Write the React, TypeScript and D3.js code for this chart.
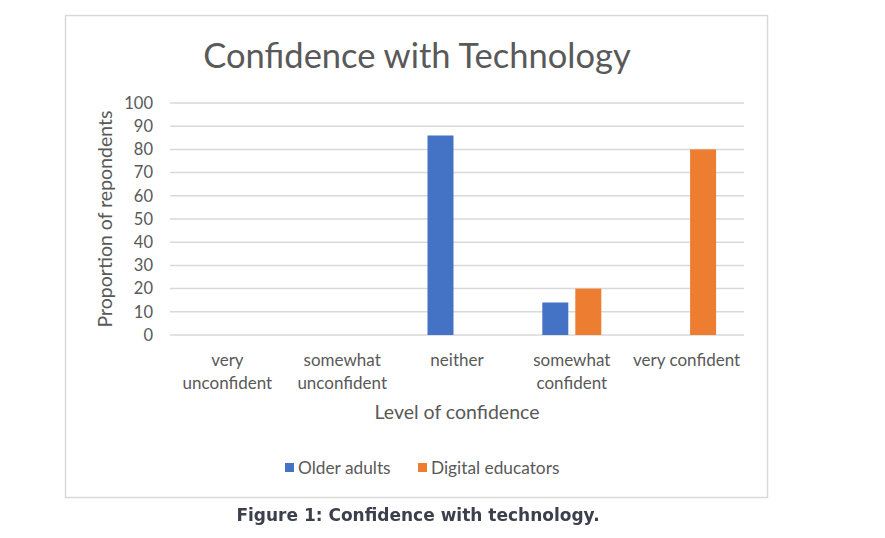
import { useRef, useEffect } from "react";
import * as d3 from "d3";

const categories = [
  ["very", "unconfident"],
  ["somewhat", "unconfident"],
  ["neither"],
  ["somewhat", "confident"],
  ["very confident"],
];
const seriesNames = ["Older adults", "Digital educators"];
const olderAdults = [0, 0, 86, 14, 0];
const digitalEducators = [0, 0, 0, 20, 80];
const yTicks = [0, 10, 20, 30, 40, 50, 60, 70, 80, 90, 100];
const colors = ["#4472C4", "#ED7D31"];

const FONT = "Lato, 'Open Sans', sans-serif";

export default function App() {
  const svgRef = useRef<SVGSVGElement>(null);

  useEffect(() => {
    drawChart();
  }, []);

  function drawChart() {
    if (!svgRef.current) return;
    const svg = d3.select(svgRef.current);
    svg.selectAll("*").remove();

    // chart frame
    svg
      .append("rect")
      .attr("x", 65.5)
      .attr("y", 15.5)
      .attr("width", 702)
      .attr("height", 482)
      .attr("fill", "#fff")
      .attr("stroke", "#d9d9d9")
      .attr("stroke-width", 1.5);

    const left = 170;
    const right = 744;
    const top = 103;
    const bottom = 335;

    const x = d3
      .scaleBand<number>()
      .domain(d3.range(categories.length))
      .range([left, right]);
    const y = d3.scaleLinear().domain([0, 100]).range([bottom, top]);

    const barW = 26;
    const gap = 7;
    const xs = d3
      .scaleOrdinal<number, number>()
      .domain([0, 1])
      .range([-(barW + gap / 2), gap / 2]);

    // gridlines
    svg
      .append("g")
      .selectAll("line")
      .data(yTicks)
      .enter()
      .append("line")
      .attr("x1", left)
      .attr("x2", right)
      .attr("y1", (d) => y(d))
      .attr("y2", (d) => y(d))
      .attr("stroke", "#d9d9d9")
      .attr("stroke-width", 1.5);

    // y tick labels
    svg
      .append("g")
      .selectAll("text")
      .data(yTicks)
      .enter()
      .append("text")
      .attr("x", 153)
      .attr("y", (d) => y(d))
      .attr("dy", "0.35em")
      .attr("text-anchor", "end")
      .attr("font-family", FONT)
      .attr("font-size", 16.5)
      .attr("fill", "#595959")
      .text((d) => d);

    // bars
    const series = [olderAdults, digitalEducators];
    series.forEach((vals, si) => {
      svg
        .append("g")
        .selectAll("rect")
        .data(vals.map((v, i) => ({ v, i })).filter((d) => d.v > 0))
        .enter()
        .append("rect")
        .attr("x", (d) => x(d.i)! + x.bandwidth() / 2 + xs(si))
        .attr("y", (d) => y(d.v))
        .attr("width", barW)
        .attr("height", (d) => y(0) - y(d.v))
        .attr("fill", colors[si]);
    });

    // x category labels
    const cat = svg
      .append("g")
      .selectAll("text")
      .data(categories)
      .enter()
      .append("text")
      .attr("text-anchor", "middle")
      .attr("font-family", FONT)
      .attr("font-size", 17)
      .attr("fill", "#595959");
    cat
      .selectAll("tspan")
      .data((d, i) => d.map((t) => ({ t, i })))
      .enter()
      .append("tspan")
      .attr("x", (d) => x(d.i)! + x.bandwidth() / 2)
      .attr("y", (_, j) => 366 + j * 23)
      .text((d) => d.t);

    // axis titles
    svg
      .append("text")
      .attr("x", (left + right) / 2)
      .attr("y", 419)
      .attr("text-anchor", "middle")
      .attr("font-family", FONT)
      .attr("font-size", 19.5)
      .attr("fill", "#595959")
      .text("Level of confidence");

    svg
      .append("text")
      .attr("transform", `translate(112, ${(top + bottom) / 2}) rotate(-90)`)
      .attr("text-anchor", "middle")
      .attr("font-family", FONT)
      .attr("font-size", 19.5)
      .attr("fill", "#595959")
      .text("Proportion of repondents");

    // title
    svg
      .append("text")
      .attr("x", 417)
      .attr("y", 68)
      .attr("text-anchor", "middle")
      .attr("font-family", FONT)
      .attr("font-size", 34.5)
      .attr("fill", "#595959")
      .text("Confidence with Technology");

    // legend
    const legendX = [285, 418];
    const lg = svg
      .append("g")
      .selectAll("g")
      .data(seriesNames)
      .enter()
      .append("g")
      .attr("transform", (_, i) => `translate(${legendX[i]}, 468)`);
    lg.append("rect")
      .attr("x", 0)
      .attr("y", -5)
      .attr("width", 9)
      .attr("height", 9)
      .attr("fill", (_, i) => colors[i]);
    lg.append("text")
      .attr("x", 13)
      .attr("dy", "0.35em")
      .attr("font-family", FONT)
      .attr("font-size", 17.3)
      .attr("fill", "#595959")
      .text((d) => d);

    // caption
    svg
      .append("text")
      .attr("x", 418)
      .attr("y", 521)
      .attr("text-anchor", "middle")
      .attr("font-family", "'DejaVu Sans', sans-serif")
      .attr("font-weight", "bold")
      .attr("font-size", 17)
      .attr("fill", "#3c3f4c")
      .text("Figure 1: Confidence with technology.");
  }

  return (
    <div style={{ position: "fixed", left: 0, top: 0 }}>
      <svg ref={svgRef} width={885} height={538} style={{ display: "block" }} />
    </div>
  );
}
